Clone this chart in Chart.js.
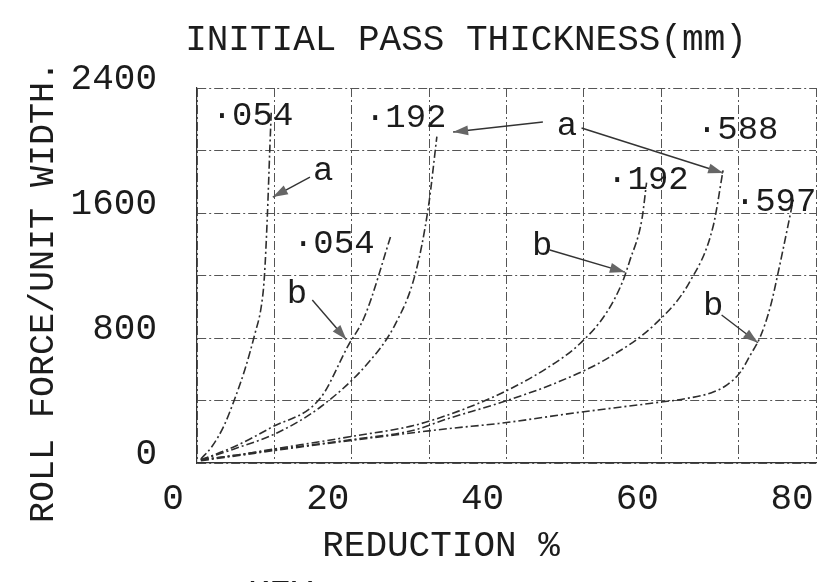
<!DOCTYPE html>
<html>
<head>
<meta charset="utf-8">
<title>Roll force vs reduction</title>
<script src="https://cdn.jsdelivr.net/npm/chart.js@4.4.1/dist/chart.umd.min.js"></script>
<style>
  html,body{margin:0;padding:0;background:#fff;}
  #wrap{width:819px;height:582px;overflow:hidden;}
</style>
</head>
<body>
<div id="wrap"><canvas id="chart" width="819" height="582"></canvas></div>
<script>
const FONT = '"Liberation Mono", "Courier New", monospace';
const INK = "#1c1c1c";

// axes
const xTicks = [0, 20, 40, 60, 80];
const yTicks = [0, 800, 1600, 2400];
const titleText = "INITIAL PASS THICKNESS(mm)";
const xTitle = "REDUCTION %";
const yTitle = "ROLL FORCE/UNIT WIDTH.";

// curves: [reduction %, roll force]
const a054 = [[0.5,25],[2,110],[3.5,240],[4.8,400],[6.2,600],[7.5,830],[8.3,1000],[8.7,1185],[9.1,1590],[9.4,1996],[9.6,2250]];
const b054 = [[0.5,20],[4.8,104],[9.5,225],[16,419],[19.5,748],[21.7,942],[25.1,1461]];
const a192 = [[0.5,20],[4.8,90],[10.4,194],[16,360],[22.1,640],[25.6,886],[28.2,1208],[29.9,1637],[31,2089]];
const b192 = [[0.5,20],[5,50],[10,90],[20,170],[28,240],[33.8,332],[39.4,448],[45.1,603],[49.4,760],[52.9,960],[55,1160],[55.9,1290],[57.5,1560],[58.1,1794]];
const a588 = [[0.5,20],[5,50],[10,85],[20,150],[28,210],[32.5,285],[39,383],[46.8,521],[53.3,677],[59.4,898],[63.7,1161],[66.7,1514],[68,1876]];
const b597 = [[0.5,15],[5,45],[10,80],[20,145],[32.5,220],[39,253],[49.5,325],[58.5,381],[63.5,415],[66.5,450],[68.5,500],[70.2,580],[71.5,690],[72.8,808],[74.1,1000],[75.2,1240],[76.3,1500],[77.1,1694]];

// typed notes on the plot (data units)
const notes = [
  {text:"·054", x:1.9,  y:2221},
  {text:"·192", x:21.7, y:2208},
  {text:"a",    x:46.5, y:2157},
  {text:"·588", x:64.6, y:2131},
  {text:"a",    x:15,   y:1869},
  {text:"·192", x:53,   y:1811},
  {text:"·597", x:69.5, y:1670},
  {text:"·054", x:12.4, y:1402},
  {text:"b",    x:43.3, y:1389},
  {text:"b",    x:11.6, y:1082},
  {text:"b",    x:65.4, y:1005}
];
const arrows = [
  {from:[44.7,2182], to:[33.1,2118]},
  {from:[49.7,2144], to:[68,1856]},
  {from:[14.6,1830], to:[9.8,1702]},
  {from:[45.6,1363], to:[55.3,1222]},
  {from:[14.9,1043], to:[19.3,790]},
  {from:[67.8,947],  to:[72.5,770]}
];

const toPts = (arr) => arr.map(p => ({x:p[0], y:p[1]}));
function curve(label, arr){
  return {
    label, data: toPts(arr),
    borderColor:"#2e2e2e", borderWidth:1.6, borderDash:[8,3,2,3],
    pointRadius:0, fill:false, cubicInterpolationMode:"monotone"
  };
}

function drawArrow(ctx, x1, y1, x2, y2){
  ctx.save();
  ctx.strokeStyle = "#333"; ctx.lineWidth = 1.4;
  ctx.beginPath(); ctx.moveTo(x1,y1); ctx.lineTo(x2,y2); ctx.stroke();
  const ang = Math.atan2(y2-y1, x2-x1), L = 15, W = 5;
  ctx.fillStyle = "#666";
  ctx.beginPath();
  ctx.moveTo(x2,y2);
  ctx.lineTo(x2 - L*Math.cos(ang) + W*Math.sin(ang), y2 - L*Math.sin(ang) - W*Math.cos(ang));
  ctx.lineTo(x2 - L*Math.cos(ang) - W*Math.sin(ang), y2 - L*Math.sin(ang) + W*Math.cos(ang));
  ctx.closePath(); ctx.fill();
  ctx.restore();
}

const typed = {
  id:"typed",
  afterDraw(chart){
    const {ctx, scales:{x, y}} = chart;
    ctx.save();
    ctx.fillStyle = INK;
    ctx.font = `34px ${FONT}`;
    ctx.textAlign = "left"; ctx.textBaseline = "middle";
    notes.forEach(n => ctx.fillText(n.text, x.getPixelForValue(n.x), y.getPixelForValue(n.y)));
    arrows.forEach(a => drawArrow(ctx,
      x.getPixelForValue(a.from[0]), y.getPixelForValue(a.from[1]),
      x.getPixelForValue(a.to[0]), y.getPixelForValue(a.to[1])));

    ctx.font = `36px ${FONT}`;
    ctx.textAlign = "center";
    ctx.fillText(titleText, 466, 40);
    ctx.fillText(xTitle, 441, 546);
    ctx.save();
    ctx.translate(44, 292); ctx.rotate(-Math.PI/2);
    ctx.font = `35px ${FONT}`;
    ctx.fillText(yTitle, 0, 0);
    ctx.restore();
    ctx.textAlign = "left"; ctx.textBaseline = "alphabetic";
    ctx.fillText("KEY", 248, 605);
    ctx.restore();
  }
};

const gridCommon = { color:"#555", lineWidth:1, drawTicks:false };
const borderCommon = { display:true, color:"#333", width:1.2, dash:[9,3,2,3] };

new Chart(document.getElementById("chart"), {
  type:"line",
  data:{ datasets:[
    curve("·054 a", a054), curve("·054 b", b054),
    curve("·192 a", a192), curve("·192 b", b192),
    curve("·588 a", a588), curve("·597 b", b597)
  ]},
  options:{
    responsive:false, animation:false, devicePixelRatio:1,
    layout:{ padding:{ top:88, right:3, bottom:0, left:0 } },
    plugins:{ legend:{display:false}, tooltip:{enabled:false}, title:{display:false} },
    scales:{
      x:{
        type:"linear", min:0, max:80,
        grid:gridCommon, border:borderCommon,
        ticks:{
          stepSize:10, autoSkip:false, maxRotation:0, padding:15, labelOffset:-24,
          color:INK, font:{family:FONT, size:36},
          callback:(v) => xTicks.includes(v) ? String(v) : ""
        },
        afterFit(s){ s.height = 119; s.paddingLeft = 0; s.paddingRight = 0; }
      },
      y:{
        type:"linear", min:0, max:2400,
        grid:gridCommon, border:borderCommon,
        ticks:{
          stepSize:400, autoSkip:false, padding:40, labelOffset:-9,
          color:INK, font:{family:FONT, size:36},
          callback:(v) => yTicks.includes(v) ? String(v) : ""
        },
        afterFit(s){ s.width = 197; s.paddingTop = 0; s.paddingBottom = 0; }
      }
    }
  },
  plugins:[typed]
});
</script>
</body>
</html>
